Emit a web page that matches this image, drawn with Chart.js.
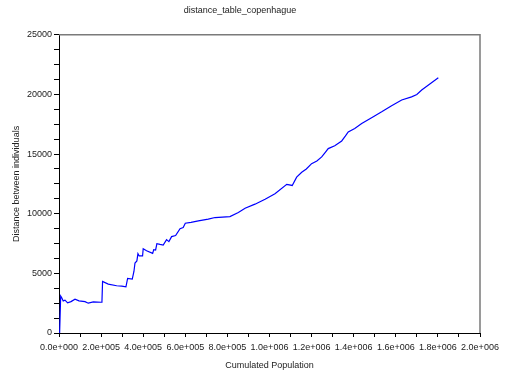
<!DOCTYPE html>
<html>
<head>
<meta charset="utf-8">
<script src="https://cdn.jsdelivr.net/npm/chart.js@4/dist/chart.umd.min.js"></script>
<style>
  body { margin: 0; background: #fff; }
  #wrap { width: 506px; height: 373px; }
</style>
</head>
<body>
<div id="wrap"><canvas id="distanceChart" width="506" height="373"></canvas></div>
<script>
// cumulated population (x) and distance between individuals (y)
const popX = [3000, 8000, 13000, 20000, 28500, 41000, 57000, 76000, 95000, 123500,
  139000, 163000, 200000, 204000, 207000, 234000, 274000, 298000, 318000, 326000,
  348000, 356000, 361000, 370000, 375000, 381000, 397000, 400000, 416000, 445000,
  450000, 459000, 465000, 480000, 495000, 511000, 522000, 535000, 554000, 575000,
  590000, 600000, 627000, 662000, 709000, 741000, 812000, 852000, 884000, 931000,
  979000, 1026000, 1082000, 1108000, 1129000, 1153000, 1175000, 1200000, 1225000, 1248000,
  1265000, 1279000, 1310000, 1343000, 1360000, 1374000, 1405000, 1438000, 1485000, 1533000,
  1580000, 1628000, 1675000, 1700000, 1723000, 1760000, 1802000];
const distY = [0, 3100, 2950, 2690, 2750, 2530, 2630, 2840, 2690, 2630,
  2500, 2610, 2580, 2600, 4320, 4100, 3960, 3930, 3870, 4570,
  4520, 5160, 5870, 6040, 6650, 6460, 6460, 7070, 6900, 6680,
  6990, 6960, 7490, 7430, 7380, 7830, 7660, 8080, 8170, 8750,
  8840, 9200, 9280, 9400, 9540, 9680, 9760, 10100, 10460, 10800,
  11220, 11670, 12460, 12370, 13070, 13480, 13750, 14200, 14420, 14760,
  15150, 15460, 15700, 16100, 16500, 16860, 17150, 17560, 18050, 18540,
  19050, 19530, 19800, 20000, 20370, 20850, 21400];

const chartTitle = 'distance_table_copenhague';
const xTitle = 'Cumulated Population';
const yTitle = 'Distance between individuals';

const font = { family: 'Liberation Sans, Arial, sans-serif', size: 9 };

// scilab style exponent: 2.0e+005
const sciLabel = (v) => {
  const [m, e] = Number(v).toExponential(1).split('e');
  const sign = e[0];
  const digits = e.slice(1).padStart(3, '0');
  return m + 'e' + sign + digits;
};

// grey box on the top and right of the plot
const boxPlugin = {
  id: 'box',
  afterDraw(chart) {
    const { ctx, chartArea: a } = chart;
    ctx.save();
    ctx.strokeStyle = '#7a7a7a';
    ctx.lineWidth = 1.5;
    ctx.beginPath();
    ctx.moveTo(a.left, a.top);
    ctx.lineTo(a.right, a.top);
    ctx.lineTo(a.right, a.bottom);
    ctx.stroke();
    ctx.restore();
  }
};

new Chart(document.getElementById('distanceChart'), {
  type: 'line',
  data: {
    datasets: [{
      data: popX.map((x, i) => ({ x: x, y: distY[i] })),
      borderColor: '#0000ff',
      borderWidth: 1.2,
      pointRadius: 0,
      tension: 0,
      fill: false
    }]
  },
  options: {
    responsive: false,
    animation: false,
    layout: { padding: { left: 0, right: 26, top: 0, bottom: 0 } },
    plugins: {
      legend: { display: false },
      tooltip: { enabled: false },
      title: {
        display: true,
        text: chartTitle,
        color: '#222',
        font: { ...font, weight: 'normal' },
        padding: { top: 5, bottom: 19 }
      }
    },
    scales: {
      x: {
        type: 'linear',
        min: 0,
        max: 2000000,
        afterFit: (scale) => { scale.height = 40; },
        border: { display: true, color: '#000', width: 1 },
        grid: { drawOnChartArea: false, drawTicks: true, tickLength: 4, color: '#000' },
        ticks: {
          stepSize: 100000,
          autoSkip: false,
          maxRotation: 0,
          padding: 5,
          color: '#222',
          font: font,
          callback: (v) => Math.round(v / 100000) % 2 === 0 ? sciLabel(v) : ''
        },
        title: {
          display: true,
          text: xTitle,
          color: '#222',
          font: font,
          padding: { top: 0, bottom: 2 }
        }
      },
      y: {
        min: 0,
        max: 25000,
        afterFit: (scale) => { scale.width = 59; },
        border: { display: true, color: '#000', width: 1 },
        grid: { drawOnChartArea: false, drawTicks: true, tickLength: 5, color: '#000' },
        ticks: {
          stepSize: 1250,
          autoSkip: false,
          padding: 2,
          color: '#222',
          font: font,
          callback: (v) => v % 5000 === 0 ? String(v) : ''
        },
        title: {
          display: true,
          text: yTitle,
          color: '#222',
          font: font,
          padding: { top: 11, bottom: 0 }
        }
      }
    }
  },
  plugins: [boxPlugin]
});
</script>
</body>
</html>
